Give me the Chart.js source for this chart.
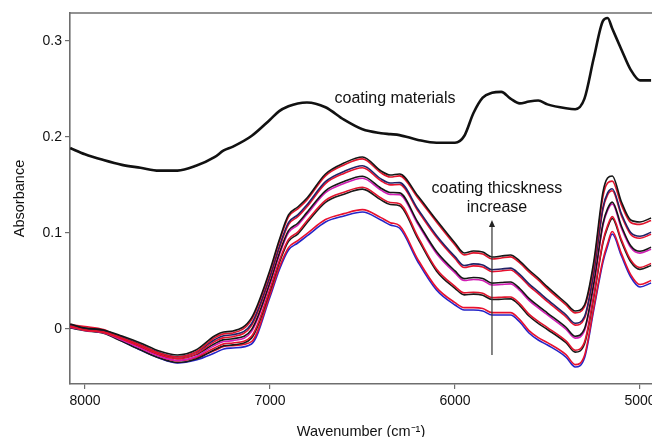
<!DOCTYPE html>
<html>
<head>
<meta charset="utf-8">
<script src="https://cdn.jsdelivr.net/npm/chart.js@4.4.0/dist/chart.umd.min.js"></script>
<style>
  html, body { margin: 0; padding: 0; background: #fff; }
  #wrap { width: 652px; height: 437px; }
</style>
</head>
<body>
<div id="wrap"><canvas id="spectra"></canvas></div>
<script>
// wavenumber grid (cm-1), high to low like the plot
const wavenumbers = [8080, 8000, 7900, 7800, 7700, 7600, 7500, 7400, 7300, 7250,
  7200, 7100, 7000, 6950, 6900, 6850, 6800, 6700, 6600, 6500,
  6400, 6350, 6300, 6200, 6100, 6000, 5950, 5900, 5850, 5800,
  5750, 5700, 5650, 5600, 5550, 5500, 5400, 5350, 5300, 5250,
  5200, 5175, 5150, 5100, 5050, 5000, 4940];

// pure coating material spectrum
const coating = [0.1885, 0.182, 0.176, 0.171, 0.168, 0.165, 0.165, 0.170, 0.179, 0.186,
  0.190, 0.201, 0.218, 0.227, 0.232, 0.235, 0.236, 0.231, 0.218, 0.208,
  0.204, 0.203, 0.202, 0.197, 0.194, 0.194, 0.201, 0.225, 0.241, 0.246,
  0.247, 0.240, 0.235, 0.237, 0.238, 0.234, 0.230, 0.229, 0.240, 0.282,
  0.321, 0.324, 0.313, 0.291, 0.270, 0.259, 0.259];

// coated samples, thinnest (spec01) to thickest (spec10)
const spec01 = [0.0021, 0.0000, -0.0031, -0.0125, -0.0219, -0.0302, -0.0354, -0.0323, -0.0250, -0.0208,
  -0.0198, -0.0156, 0.0333, 0.0615, 0.0823, 0.0896, 0.0969, 0.1115, 0.1177, 0.1219,
  0.1135, 0.1083, 0.1052, 0.0698, 0.0406, 0.0250, 0.0198, 0.0198, 0.0188, 0.0146,
  0.0146, 0.0146, 0.0073, -0.0042, -0.0115, -0.0167, -0.0292, -0.0396, -0.0302, 0.0198,
  0.0698, 0.0865, 0.0990, 0.0760, 0.0542, 0.0438, 0.0479];
const spec02 = [0.0046, 0.0025, -0.0006, -0.0100, -0.0194, -0.0277, -0.0329, -0.0298, -0.0225, -0.0183,
  -0.0173, -0.0131, 0.0358, 0.0640, 0.0848, 0.0921, 0.0994, 0.1140, 0.1202, 0.1244,
  0.1160, 0.1108, 0.1077, 0.0723, 0.0431, 0.0275, 0.0223, 0.0223, 0.0213, 0.0171,
  0.0171, 0.0171, 0.0098, -0.0017, -0.0090, -0.0142, -0.0267, -0.0371, -0.0277, 0.0223,
  0.0723, 0.0890, 0.1015, 0.0785, 0.0567, 0.0463, 0.0504];
const spec03 = [0.0010, -0.0017, -0.0045, -0.0129, -0.0217, -0.0300, -0.0349, -0.0312, -0.0217, -0.0175,
  -0.0165, -0.0095, 0.0398, 0.0689, 0.0913, 0.0989, 0.1107, 0.1320, 0.1405, 0.1457,
  0.1345, 0.1297, 0.1285, 0.0939, 0.0605, 0.0424, 0.0356, 0.0363, 0.0352, 0.0307,
  0.0310, 0.0314, 0.0244, 0.0135, 0.0059, -0.0005, -0.0143, -0.0241, -0.0156, 0.0328,
  0.0897, 0.1057, 0.1151, 0.0909, 0.0700, 0.0621, 0.0662];
const spec04 = [0.0030, 0.0003, -0.0025, -0.0109, -0.0197, -0.0280, -0.0329, -0.0292, -0.0197, -0.0155,
  -0.0145, -0.0075, 0.0418, 0.0709, 0.0933, 0.1009, 0.1127, 0.1340, 0.1425, 0.1477,
  0.1365, 0.1317, 0.1305, 0.0959, 0.0625, 0.0444, 0.0376, 0.0383, 0.0372, 0.0327,
  0.0330, 0.0334, 0.0264, 0.0155, 0.0079, 0.0015, -0.0123, -0.0221, -0.0136, 0.0348,
  0.0917, 0.1077, 0.1171, 0.0929, 0.0720, 0.0641, 0.0682];
const spec05 = [0.0018, -0.0014, -0.0039, -0.0116, -0.0199, -0.0282, -0.0328, -0.0286, -0.0173, -0.0131,
  -0.0121, -0.0027, 0.0468, 0.0767, 0.1004, 0.1082, 0.1195, 0.1420, 0.1516, 0.1571,
  0.1447, 0.1402, 0.1398, 0.1090, 0.0787, 0.0585, 0.0505, 0.0516, 0.0506, 0.0458,
  0.0464, 0.0470, 0.0402, 0.0299, 0.0220, 0.0146, -0.0002, -0.0095, -0.0018, 0.0453,
  0.1079, 0.1234, 0.1302, 0.1050, 0.0848, 0.0790, 0.0831];
const spec06 = [0.0038, 0.0006, -0.0019, -0.0096, -0.0179, -0.0262, -0.0308, -0.0266, -0.0153, -0.0111,
  -0.0101, -0.0007, 0.0488, 0.0787, 0.1024, 0.1102, 0.1215, 0.1440, 0.1536, 0.1591,
  0.1467, 0.1422, 0.1418, 0.1110, 0.0807, 0.0605, 0.0525, 0.0536, 0.0526, 0.0478,
  0.0484, 0.0490, 0.0422, 0.0319, 0.0240, 0.0166, 0.0018, -0.0075, 0.0002, 0.0473,
  0.1099, 0.1254, 0.1322, 0.1070, 0.0868, 0.0810, 0.0851];
const spec07 = [0.0025, -0.0012, -0.0035, -0.0104, -0.0182, -0.0265, -0.0309, -0.0262, -0.0132, -0.0090,
  -0.0080, 0.0035, 0.0533, 0.0838, 0.1088, 0.1169, 0.1274, 0.1515, 0.1621, 0.1680,
  0.1544, 0.1501, 0.1505, 0.1228, 0.0955, 0.0734, 0.0641, 0.0658, 0.0647, 0.0597,
  0.0605, 0.0614, 0.0548, 0.0450, 0.0369, 0.0285, 0.0127, 0.0040, 0.0109, 0.0568,
  0.1247, 0.1397, 0.1441, 0.1179, 0.0985, 0.0946, 0.0987];
const spec08 = [0.0045, 0.0008, -0.0015, -0.0084, -0.0162, -0.0245, -0.0289, -0.0242, -0.0112, -0.0070,
  -0.0060, 0.0055, 0.0553, 0.0858, 0.1108, 0.1189, 0.1294, 0.1535, 0.1641, 0.1700,
  0.1564, 0.1521, 0.1525, 0.1248, 0.0975, 0.0754, 0.0661, 0.0678, 0.0667, 0.0617,
  0.0625, 0.0634, 0.0568, 0.0470, 0.0389, 0.0305, 0.0147, 0.0060, 0.0129, 0.0588,
  0.1267, 0.1417, 0.1461, 0.1199, 0.1005, 0.0966, 0.1007];
const spec09 = [0.0032, -0.0010, -0.0030, -0.0093, -0.0166, -0.0249, -0.0291, -0.0239, -0.0093, -0.0051,
  -0.0041, 0.0095, 0.0595, 0.0907, 0.1168, 0.1251, 0.1345, 0.1595, 0.1709, 0.1772,
  0.1626, 0.1584, 0.1595, 0.1365, 0.1115, 0.0876, 0.0772, 0.0793, 0.0782, 0.0730,
  0.0740, 0.0751, 0.0688, 0.0595, 0.0511, 0.0418, 0.0251, 0.0168, 0.0230, 0.0660,
  0.1380, 0.1520, 0.1540, 0.1290, 0.1110, 0.1090, 0.1130];
const spec10 = [0.0052, 0.0010, -0.0010, -0.0073, -0.0146, -0.0229, -0.0271, -0.0219, -0.0073, -0.0031,
  -0.0021, 0.0115, 0.0615, 0.0927, 0.1188, 0.1271, 0.1365, 0.1615, 0.1729, 0.1792,
  0.1646, 0.1604, 0.1615, 0.1385, 0.1135, 0.0896, 0.0792, 0.0813, 0.0802, 0.0750,
  0.0760, 0.0771, 0.0708, 0.0615, 0.0531, 0.0438, 0.0271, 0.0188, 0.0250, 0.0698,
  0.1427, 0.1573, 0.1594, 0.1323, 0.1135, 0.1115, 0.1156];

const xTicks = [8000, 7000, 6000, 5000];
const xTickLabels = ['8000', '7000', '6000', '5000'];
const yTicks = [0, 0.1, 0.2, 0.3];
const yTickLabels = ['0', '0.1', '0.2', '0.3'];

const FONT = '"Liberation Sans", Arial, sans-serif';
const AXIS_GREY = '#6e6e6e';

function toPoints(values) {
  return values.map((v, i) => ({ x: wavenumbers[i], y: v }));
}

function line(values, color, width) {
  return {
    data: toPoints(values),
    borderColor: color,
    borderWidth: width,
    pointRadius: 0,
    fill: false,
    cubicInterpolationMode: 'monotone'
  };
}

const datasets = [
  line(coating, '#111111', 2.6),
  line(spec10, '#151515', 1.6),
  line(spec09, '#e0142c', 1.6),
  line(spec08, '#222266', 1.6),
  line(spec07, '#e8102e', 1.6),
  line(spec06, '#151515', 1.6),
  line(spec05, '#d21cb4', 1.6),
  line(spec04, '#e0142c', 1.6),
  line(spec03, '#1a1a1a', 1.6),
  line(spec02, '#e8102e', 1.6),
  line(spec01, '#2424c8', 1.6)
];

// frame top line, text labels and the arrow
const overlay = {
  id: 'overlay',
  afterDatasetsDraw(chart) {
    const { ctx, chartArea, scales: { x, y } } = chart;
    ctx.save();
    ctx.strokeStyle = AXIS_GREY;
    ctx.lineWidth = 1.6;
    ctx.beginPath();
    ctx.moveTo(chartArea.left, chartArea.top);
    ctx.lineTo(chartArea.right, chartArea.top);
    ctx.stroke();

    ctx.fillStyle = '#111';
    ctx.font = '16px ' + FONT;
    ctx.textAlign = 'center';
    ctx.textBaseline = 'middle';
    ctx.fillText('coating materials', x.getPixelForValue(6324), y.getPixelForValue(0.2396));
    ctx.fillText('coating thicskness', x.getPixelForValue(5773), y.getPixelForValue(0.1458));
    ctx.fillText('increase', x.getPixelForValue(5773), y.getPixelForValue(0.1260));

    const ax = x.getPixelForValue(5800);
    const yBottom = y.getPixelForValue(-0.027);
    const yTip = y.getPixelForValue(0.1135);
    ctx.strokeStyle = '#333';
    ctx.lineWidth = 1.2;
    ctx.beginPath();
    ctx.moveTo(ax, yBottom);
    ctx.lineTo(ax, yTip + 5);
    ctx.stroke();
    ctx.fillStyle = '#222';
    ctx.beginPath();
    ctx.moveTo(ax, yTip);
    ctx.lineTo(ax - 3, yTip + 7);
    ctx.lineTo(ax + 3, yTip + 7);
    ctx.closePath();
    ctx.fill();
    ctx.restore();
  }
};

new Chart(document.getElementById('spectra'), {
  type: 'line',
  data: { datasets: datasets },
  plugins: [overlay],
  options: {
    responsive: true,
    maintainAspectRatio: false,
    animation: false,
    layout: { padding: { top: 13, right: 0, bottom: 0, left: 0 } },
    plugins: {
      legend: { display: false },
      tooltip: { enabled: false }
    },
    scales: {
      x: {
        type: 'linear',
        reverse: true,
        min: 4935,
        max: 8081,
        afterBuildTicks: (axis) => { axis.ticks = xTicks.map(v => ({ value: v })); },
        afterFit: (axis) => { axis.height = 53; axis.paddingLeft = 0; axis.paddingRight = 0; },
        ticks: {
          autoSkip: false,
          maxRotation: 0,
          padding: 4,
          color: '#111',
          font: { family: FONT, size: 14 },
          callback: (value, index) => xTickLabels[index]
        },
        grid: { drawOnChartArea: false, drawTicks: true, tickLength: 5, color: AXIS_GREY, lineWidth: 1.2 },
        border: { display: true, color: AXIS_GREY, width: 1.6 },
        title: {
          display: true,
          text: 'Wavenumber (cm\u207B\u00B9)',
          color: '#111',
          font: { family: FONT, size: 14.5 },
          padding: { top: 0, bottom: -4 }
        }
      },
      y: {
        min: -0.0573,
        max: 0.3292,
        afterBuildTicks: (axis) => { axis.ticks = yTicks.map(v => ({ value: v })); },
        afterFit: (axis) => { axis.width = 70; axis.paddingTop = 0; axis.paddingBottom = 0; },
        ticks: {
          autoSkip: false,
          padding: 3,
          color: '#111',
          font: { family: FONT, size: 14 },
          callback: (value, index) => yTickLabels[index]
        },
        grid: { drawOnChartArea: false, drawTicks: true, tickLength: 5, color: AXIS_GREY, lineWidth: 1.2 },
        border: { display: true, color: AXIS_GREY, width: 1.6 },
        title: {
          display: true,
          text: 'Absorbance',
          color: '#111',
          font: { family: FONT, size: 14.5 },
          padding: { top: 11, bottom: 0 }
        }
      }
    }
  }
});
</script>
</body>
</html>
